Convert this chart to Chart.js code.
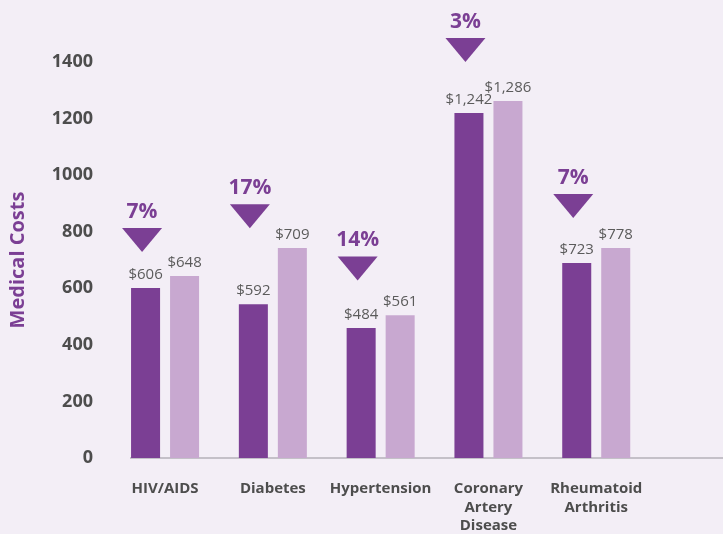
<!DOCTYPE html>
<html>
<head>
<meta charset="utf-8">
<script src="https://cdn.jsdelivr.net/npm/chart.js@4.4.1/dist/chart.umd.min.js"></script>
<style>
    html, body { margin: 0; padding: 0; background: #f3eef6; }
    #wrap { width: 723px; height: 534px; }
</style>
</head>
<body>
<div id="wrap"><canvas id="costChart"></canvas></div>
<script>
/* Datos */
const categories = [["HIV/AIDS"], ["Diabetes"], ["Hypertension"], ["Coronary", "Artery", "Disease"], ["Rheumatoid", "Arthritis"]];
const beforeBars = [601, 544, 460, 1220, 689];
const afterBars = [643, 742, 505, 1262, 742];
const beforeLabels = ["$606", "$592", "$484", "$1,242", "$723"];
const afterLabels = ["$648", "$709", "$561", "$1,286", "$778"];
const changeLabels = ["7%", "17%", "14%", "3%", "7%"];
const markerLevels = [771, 855, 670, 1442, 891];
const yTicks = [0, 200, 400, 600, 800, 1000, 1200, 1400];

const DARK = "#7b3f94";
const LIGHT = "#c8a8d0";
const TEXT = "#4d4d4d";

Chart.defaults.font.family = "'Open Sans', sans-serif";

const ctx = document.getElementById("costChart").getContext("2d");

/* etiquetas de valor, triangulos y porcentajes */
const annotations = {
    id: "annotations",
    afterDatasetsDraw(chart) {
        const c = chart.ctx;
        const yScale = chart.scales.y;
        const dark = chart.getDatasetMeta(0).data;
        const light = chart.getDatasetMeta(1).data;

        c.save();
        c.textAlign = "center";
        c.textBaseline = "middle";
        c.font = "15px 'Open Sans', sans-serif";
        c.fillStyle = "#5b5b5b";
        dark.forEach((bar, i) => c.fillText(beforeLabels[i], bar.x, bar.y - 13.5));
        light.forEach((bar, i) => c.fillText(afterLabels[i], bar.x, bar.y - 13.5));

        dark.forEach((bar, i) => {
            const x = bar.x - 3.5;
            const y = yScale.getPixelForValue(markerLevels[i]);
            c.fillStyle = DARK;
            c.beginPath();
            c.moveTo(x - 20, y - 12);
            c.lineTo(x + 20, y - 12);
            c.lineTo(x, y + 12);
            c.closePath();
            c.fill();

            c.font = "bold 21px 'Open Sans', sans-serif";
            c.fillText(changeLabels[i], x, y - 28);
        });
        c.restore();
    }
};

// quita el relleno extra que Chart.js reserva para las etiquetas
function noPadding(scale) {
    scale.paddingTop = 0;
    scale.paddingBottom = 0;
    scale.paddingLeft = 0;
    scale.paddingRight = 0;
}

new Chart(ctx, {
    type: "bar",
    data: {
        datasets: [{
            label: "Before",
            data: beforeBars.map((v, i) => ({ x: i, y: v })),
            backgroundColor: DARK,
            categoryPercentage: 0.7236,
            barPercentage: 0.744
        }, {
            label: "After",
            data: afterBars.map((v, i) => ({ x: i, y: v })),
            backgroundColor: LIGHT,
            categoryPercentage: 0.7236,
            barPercentage: 0.744
        }]
    },
    options: {
        responsive: true,
        maintainAspectRatio: false,
        animation: false,
        layout: { padding: { top: 62, right: 0, left: 0, bottom: 0 } },
        plugins: {
            legend: { display: false },
            tooltip: { enabled: false }
        },
        scales: {
            x: {
                type: "linear",
                min: -0.316,
                max: 5.176,
                offset: false,
                grid: { display: false, drawTicks: false, offset: false },
                border: { display: true, color: "#c4c0c8", width: 2 },
                ticks: {
                    stepSize: 1,
                    includeBounds: false,
                    autoSkip: false,
                    maxRotation: 0,
                    padding: 22,
                    color: TEXT,
                    font: { size: 15, weight: "bold", lineHeight: 1.23 },
                    callback: (v) => categories[v] || ""
                },
                afterFit: (scale) => { scale.height = 76; noPadding(scale); }
            },
            y: {
                min: 0,
                max: 1400,
                grid: { display: false, drawTicks: false },
                border: { display: false },
                afterBuildTicks: (scale) => {
                    scale.ticks = yTicks.map((v) => ({ value: v }));
                },
                ticks: {
                    padding: 38,
                    color: TEXT,
                    font: { size: 18, weight: "bold" },
                    callback: (v) => String(v)
                },
                title: {
                    display: true,
                    text: "Medical Costs",
                    color: DARK,
                    padding: { top: 6, bottom: 0 },
                    font: { size: 20, weight: "bold" }
                },
                afterFit: (scale) => { scale.width = 131; noPadding(scale); }
            }
        }
    },
    plugins: [annotations]
});
</script>
</body>
</html>
